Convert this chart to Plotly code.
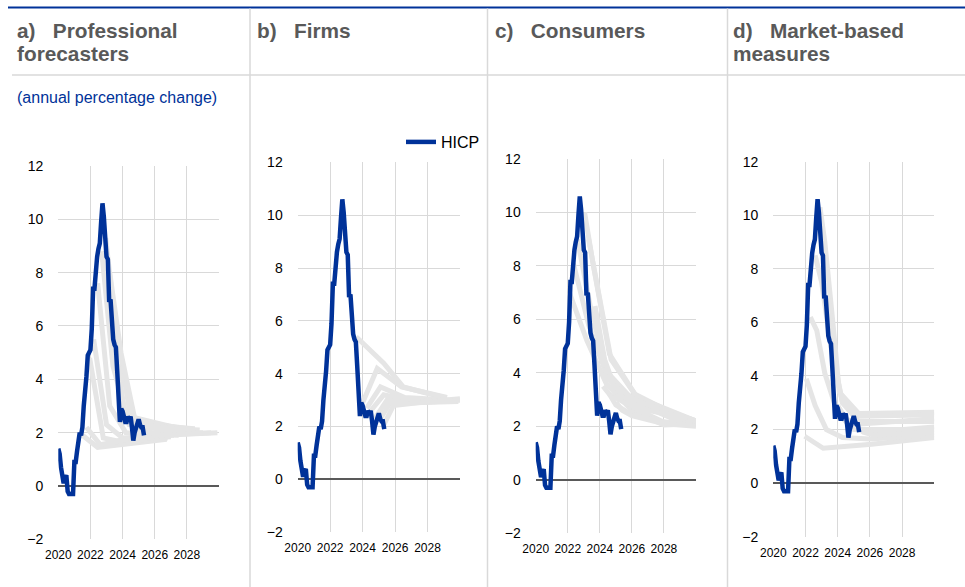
import plotly.graph_objects as go

# ---------------- data ----------------
hicp_values = [1.4, 1.2, 0.7, 0.3, 0.1, 0.3, 0.4, -0.2, -0.3, -0.3, -0.3, -0.3,
               0.9, 0.9, 1.3, 1.6, 2.0, 1.9, 2.2, 3.0, 3.4, 4.1, 4.9, 5.0,
               5.1, 5.9, 7.4, 7.4, 8.1, 8.6, 8.9, 9.1, 9.9, 10.6, 10.1, 9.2,
               8.6, 8.5, 6.9, 7.0, 6.1, 5.5, 5.3, 5.2, 4.3, 2.9, 2.4, 2.9,
               2.8, 2.6, 2.4, 2.4, 2.6, 2.5, 2.6, 2.2, 1.7, 2.0, 2.2, 2.4,
               2.5, 2.3, 2.2, 2.2, 1.9]
hicp_start_year = 2020

# a) professional forecasters: forecast paths (decimal year, value)
spf_x = [[2021.5, 2022.45, 2026.75],
         [2021.75, 2022.6, 2023.5, 2026.8],
         [2021.95, 2022.8, 2023.6, 2027.0],
         [2022.2, 2023.0, 2024.0, 2027.2],
         [2022.45, 2023.2, 2024.2, 2027.5],
         [2022.7, 2023.4, 2024.4, 2027.7],
         [2022.95, 2023.55, 2024.5, 2027.9],
         [2023.2, 2023.9, 2024.8, 2028.2],
         [2023.45, 2024.0, 2025.0, 2028.5],
         [2023.7, 2024.2, 2025.2, 2028.8],
         [2024.0, 2024.5, 2025.5, 2029.0],
         [2024.5, 2025.0, 2026.0, 2029.5],
         [2025.0, 2025.5, 2026.5, 2029.9]]
spf_y = [[1.9, 1.45, 1.75],
         [2.2, 1.55, 1.65, 1.8],
         [4.8, 1.8, 1.7, 1.85],
         [5.5, 2.3, 1.8, 1.9],
         [7.6, 3.0, 2.0, 1.9],
         [8.8, 4.5, 2.3, 2.0],
         [9.3, 6.0, 2.6, 2.1],
         [8.0, 5.0, 2.4, 2.15],
         [6.0, 2.8, 2.3, 2.15],
         [4.5, 2.5, 2.2, 2.1],
         [2.8, 2.3, 2.0, 2.0],
         [2.4, 2.3, 1.9, 2.0],
         [2.3, 2.0, 1.9, 2.0]]

# b) firms
firms_x = [[2023.6, 2025.3, 2026.5, 2029.0],
           [2024.0, 2024.9, 2026.4, 2029.2],
           [2024.25, 2025.1, 2026.6, 2029.5],
           [2024.5, 2025.3, 2026.8, 2029.7],
           [2024.75, 2025.5, 2027.0, 2029.9],
           [2025.0, 2025.7, 2027.2, 2030.0],
           [2025.25, 2025.9, 2027.4, 2030.0]]
firms_y = [[5.4, 4.4, 3.5, 3.1],
           [2.9, 4.2, 3.5, 3.1],
           [2.7, 3.5, 3.1, 3.0],
           [2.6, 3.2, 3.0, 2.95],
           [2.3, 3.0, 2.9, 2.95],
           [2.2, 2.9, 2.9, 3.05],
           [2.0, 2.8, 2.9, 3.0]]

# c) consumers
cons_x = [[2022.1, 2023.2, 2024.4, 2026.0, 2028.0, 2030.0],
          [2022.35, 2023.3, 2024.5, 2026.1, 2028.2, 2030.0],
          [2022.6, 2023.5, 2024.5, 2026.2, 2028.5, 2030.0],
          [2023.05, 2023.6, 2024.6, 2026.2, 2028.5, 2030.0],
          [2023.3, 2023.9, 2024.7, 2026.3, 2028.8, 2030.0],
          [2023.7, 2024.3, 2024.9, 2026.5, 2029.0, 2030.0],
          [2024.2, 2024.6, 2025.5, 2027.0, 2029.5],
          [2024.6, 2025.0, 2025.8, 2027.5, 2030.0],
          [2025.0, 2025.4, 2026.0, 2028.0, 2030.0]]
cons_y = [[7.0, 5.2, 3.6, 2.6, 2.05, 2.1],
          [8.1, 5.8, 3.8, 2.7, 2.1, 2.1],
          [9.0, 6.2, 4.0, 2.9, 2.3, 2.15],
          [10.0, 8.0, 4.7, 3.2, 2.5, 2.2],
          [9.0, 7.0, 4.5, 3.1, 2.5, 2.2],
          [6.5, 4.5, 3.5, 2.9, 2.4, 2.2],
          [3.5, 3.2, 2.9, 2.6, 2.3],
          [3.2, 2.8, 2.5, 2.2, 2.05],
          [2.9, 2.6, 2.4, 2.1, 2.0]]

# d) market-based measures
mkt_x = [[2021.95, 2022.3, 2023.1, 2026.1, 2030.0],
         [2022.05, 2022.6, 2023.3, 2024.3, 2026.0, 2030.0],
         [2022.3, 2022.7, 2023.2, 2024.0, 2025.0, 2030.0],
         [2022.6, 2023.0, 2023.6, 2024.3, 2025.3, 2030.0],
         [2022.9, 2023.2, 2023.7, 2024.1, 2025.3, 2030.0],
         [2023.4, 2023.8, 2024.3, 2025.3, 2030.0],
         [2024.0, 2024.5, 2025.2, 2030.0],
         [2024.7, 2025.2, 2026.0, 2030.0],
         [2025.2, 2025.6, 2026.2, 2030.0]]
mkt_y = [[1.75, 1.6, 1.3, 1.45, 1.7],
         [3.9, 2.9, 2.0, 1.7, 1.65, 1.8],
         [6.2, 5.7, 4.1, 2.6, 2.0, 2.0],
         [8.5, 7.5, 5.0, 3.0, 2.3, 2.3],
         [10.3, 9.0, 6.0, 3.4, 2.6, 2.65],
         [7.0, 4.5, 3.0, 2.5, 2.55],
         [2.9, 2.4, 2.2, 2.4],
         [2.2, 2.0, 1.9, 2.1],
         [2.1, 1.9, 1.8, 1.9]]

year_ticks = [2020, 2022, 2024, 2026, 2028, 2030]
year_labels = ["2020", "2022", "2024", "2026", "2028", ""]
y_ticks = [-2, 0, 2, 4, 6, 8, 10, 12]

title_line1 = ["a)\u00a0\u00a0 Professional", "b)\u00a0\u00a0 Firms",
               "c)\u00a0\u00a0 Consumers", "d)\u00a0\u00a0 Market-based"]
title_line2 = ["forecasters", "", "", "measures"]
unit_label = "(annual percentage change)"

# ---------------- layout helpers ----------------
W, H = 965, 587
BLUE = "#003299"
GREY_LINE = "#e5e5e5"
GRID = "#d9d9d9"
TITLE_GREY = "#595959"

hicp_x = [hicp_start_year + i / 12 for i in range(len(hicp_values))]

# plot areas in pixels: (left, right, top, bottom)
areas = [(58.3, 219.0, 166.0, 539.3),
         (297.7, 460.0, 162.3, 532.3),
         (535.7, 696.0, 159.0, 533.3),
         (773.3, 934.3, 161.7, 536.7)]

panels = [(spf_x, spf_y), (firms_x, firms_y), (cons_x, cons_y), (mkt_x, mkt_y)]

fig = go.Figure()
for k, (px, py) in enumerate(panels):
    sfx = "" if k == 0 else str(k + 1)
    for xs, ys in zip(px, py):
        fig.add_trace(go.Scatter(x=xs, y=ys, mode="lines",
                                 line=dict(color=GREY_LINE, width=5),
                                 xaxis="x" + sfx, yaxis="y" + sfx,
                                 showlegend=False, hoverinfo="skip"))
    fig.add_trace(go.Scatter(x=hicp_x, y=hicp_values, mode="lines", name="HICP",
                             line=dict(color=BLUE, width=4.5),
                             xaxis="x" + sfx, yaxis="y" + sfx,
                             showlegend=(k == 1)))

layout = dict(width=W, height=H, margin=dict(l=0, r=0, t=0, b=0, pad=0, autoexpand=False),
              paper_bgcolor="white", plot_bgcolor="white",
              font=dict(family="Liberation Sans, Arial, sans-serif", color="#000000"),
              legend=dict(x=401 / W, y=1 - 142 / H, xanchor="left", yanchor="middle",
                          font=dict(size=16, color="#000000"), bgcolor="rgba(0,0,0,0)",
                          itemwidth=30, tracegroupgap=0))
for k, (l, r, t, b) in enumerate(areas):
    sfx = "" if k == 0 else str(k + 1)
    layout["xaxis" + sfx] = dict(domain=[l / W, r / W], anchor="y" + sfx, range=[2020, 2030],
                                 tickvals=year_ticks, ticktext=year_labels,
                                 showgrid=True, gridcolor=GRID, gridwidth=1,
                                 zeroline=False, showline=False, ticks="",
                                 ticklabelstandoff=7, automargin=False,
                                 tickfont=dict(size=12, color="#000000"))
    layout["yaxis" + sfx] = dict(domain=[1 - b / H, 1 - t / H], anchor="x" + sfx, range=[-2, 12],
                                 tickvals=y_ticks, showgrid=True, gridcolor=GRID, gridwidth=1,
                                 zeroline=True, zerolinecolor="#595959", zerolinewidth=1.5,
                                 showline=False, ticks="", ticklabelstandoff=14, automargin=False,
                                 tickfont=dict(size=14, color="#000000"))
fig.update_layout(**layout)

# header frame
shapes = [dict(type="line", xref="paper", yref="paper", x0=8 / W, x1=1, y0=1 - 7.5 / H, y1=1 - 7.5 / H,
               line=dict(color=BLUE, width=2)),
          dict(type="line", xref="paper", yref="paper", x0=12 / W, x1=1, y0=1 - 75 / H, y1=1 - 75 / H,
               line=dict(color=GRID, width=1.5))]
for xv in [250, 487.5, 727.5]:
    shapes.append(dict(type="line", xref="paper", yref="paper", x0=xv / W, x1=xv / W,
                       y0=0, y1=1 - 8.5 / H, line=dict(color=GRID, width=1.5)))
fig.update_layout(shapes=shapes)

title_x = [16, 256, 494, 732]
for tx, t1, t2 in zip(title_x, title_line1, title_line2):
    for ty, tt in [(30, t1), (54, t2)]:
        if not tt:
            continue
        fig.add_annotation(x=tx / W, y=1 - ty / H, xref="paper", yref="paper", text="<b>" + tt + "</b>",
                           showarrow=False, xanchor="left", yanchor="middle", align="left",
                           font=dict(size=20.8, color=TITLE_GREY), borderpad=0)
fig.add_annotation(x=16 / W, y=1 - 97 / H, xref="paper", yref="paper", text=unit_label,
                   showarrow=False, xanchor="left", yanchor="middle",
                   font=dict(size=16, color=BLUE), borderpad=0)

fig.write_html("out.html", config={"displayModeBar": False},
               post_script="document.body.style.margin='0px';document.body.style.padding='0px';")
